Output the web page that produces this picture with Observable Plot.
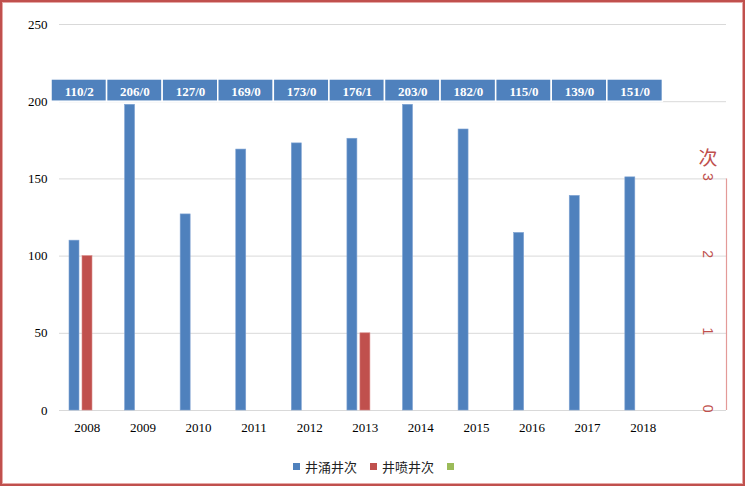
<!DOCTYPE html>
<html><head><meta charset="utf-8">
<script src="https://cdn.jsdelivr.net/npm/d3@7"></script>
<script src="https://cdn.jsdelivr.net/npm/@observablehq/plot@0.6"></script>
<style>
body{margin:0;background:#fff;}
#wrap{position:relative;width:746px;height:488px;overflow:hidden;}
#chart{position:absolute;left:0;top:0;}
#border{position:absolute;left:0;top:0;width:745px;height:486px;box-sizing:border-box;border:2px solid #C0504D;box-shadow: inset 0 0 0 1px #e6a9a7;pointer-events:none;}
#legend{position:absolute;top:457px;left:293px;display:flex;align-items:center;font-family:"Noto Sans CJK SC",sans-serif;font-size:13px;color:#222;}
#legend .sw{width:7px;height:7px;display:inline-block;margin-right:5px;}
#legend .it{display:flex;align-items:center;margin-right:13px;}
</style></head>
<body>
<div id="wrap"><div id="chart"></div><div id="legend"></div><div id="border"></div></div>
<script>
// ---- data ----
const categories = ["2008","2009","2010","2011","2012","2013","2014","2015","2016","2017","2018",""];
const years = ["2008","2009","2010","2011","2012","2013","2014","2015","2016","2017","2018"];
const kickCounts = [110, 198, 127, 169, 173, 176, 198, 182, 115, 139, 151];   // 井涌井次 (bar heights as drawn)
const blowoutCounts = [2, 0, 0, 0, 0, 1, 0, 0, 0, 0, 0];                     // 井喷井次 (right axis)
const tableLabels = ["110/2","206/0","127/0","169/0","173/0","176/1","203/0","182/0","115/0","139/0","151/0"];
const leftTicks = [0, 50, 100, 150, 200, 250];
const rightTicks = [0, 1, 2, 3];
const rightTitle = "次";
const seriesNames = ["井涌井次", "井喷井次", ""];
const seriesColors = ["#4F81BD", "#C0504D", "#9BBB59"];

const rightRatio = 50; // one unit on the right axis equals 50 on the left axis
const blue = seriesColors[0], red = seriesColors[1];

const kickData = years.map((y, i) => ({year: y, v: kickCounts[i]}));
const blowData = years.map((y, i) => ({year: y, v: blowoutCounts[i]})).filter(d => d.v > 0);
const tableData = years.map((y, i) => ({year: y, label: tableLabels[i]}));

const rightAxisLine = (index, scales, values, dimensions) => {
  const x = dimensions.width - dimensions.marginRight + 0.5;
  const line = document.createElementNS("http://www.w3.org/2000/svg", "line");
  line.setAttribute("x1", x); line.setAttribute("x2", x);
  line.setAttribute("y1", scales.y(0)); line.setAttribute("y2", scales.y(d3.max(rightTicks) * rightRatio));
  line.setAttribute("stroke", "#e39a98");
  line.setAttribute("stroke-width", 1.2);
  return line;
};

const chart = Plot.plot({
  width: 746,
  height: 446,
  marginTop: 24,
  marginBottom: 36,
  marginLeft: 59,
  marginRight: 20,
  style: {fontFamily: "Liberation Serif, serif", fontSize: "13px", color: "#000", background: "transparent"},
  x: {type: "band", domain: categories, padding: 0, round: false, axis: null, label: null},
  y: {domain: [0, 250], axis: null, label: null},
  marks: [
    Plot.ruleY(leftTicks, {stroke: "#d9d9d9", strokeWidth: 1}),
    Plot.axisY(leftTicks, {tickSize: 0, tickPadding: 12, label: null, fontSize: 13, fontFamily: "Liberation Serif, serif"}),
    Plot.axisX(years, {tickSize: 0, tickPadding: 12, label: null, fontSize: 13, fontFamily: "Liberation Serif, serif"}),
    Plot.barY(kickData, {x: "year", y: "v", fill: blue, stroke: "#7fa3d3", strokeWidth: 0.6, insetLeft: 10, insetRight: 35.6}),
    Plot.barY(blowData, {x: "year", y: d => d.v * rightRatio, fill: red, stroke: "#d98886", strokeWidth: 0.6, insetLeft: 23, insetRight: 22.6}),
    Plot.barY(tableData, {x: "year", y1: 200, y2: 214.4, fill: blue, stroke: "#fff", strokeWidth: 1.5, dx: -8}),
    Plot.text(tableData, {x: "year", y: 207.2, dy: 1, dx: -8, text: "label", fill: "#fff", fontWeight: "bold", fontSize: 13, fontFamily: "Liberation Serif, serif"}),
    rightAxisLine,
    Plot.text(rightTicks, {y: d => d * rightRatio, text: d => String(d), frameAnchor: "right", dx: -19, dy: 2, rotate: 90, fill: red, fontSize: 14, fontFamily: "Liberation Sans, sans-serif"}),
    Plot.text([rightTitle], {y: () => d3.max(rightTicks) * rightRatio, text: d => d, frameAnchor: "right", dx: -9, dy: -20, fill: red, fontSize: 19, fontFamily: "Noto Sans CJK SC, sans-serif"})
  ]
});
document.getElementById("chart").appendChild(chart);

const legend = document.getElementById("legend");
seriesNames.forEach((name, i) => {
  const it = document.createElement("span");
  it.className = "it";
  const sw = document.createElement("span");
  sw.className = "sw";
  sw.style.background = seriesColors[i];
  it.appendChild(sw);
  const t = document.createElement("span");
  t.textContent = name;
  it.appendChild(t);
  legend.appendChild(it);
});
</script>
</body></html>
